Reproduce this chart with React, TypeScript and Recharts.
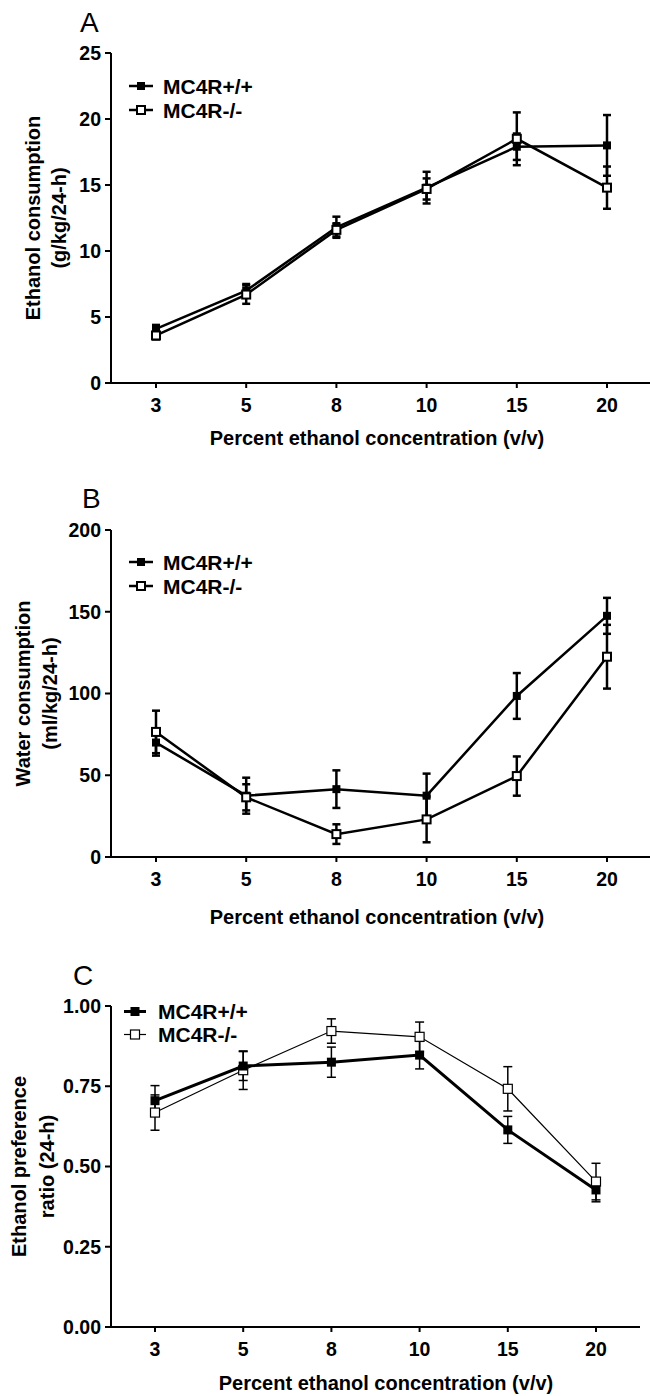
import React from 'react';
import { LineChart, Line, XAxis, YAxis, ErrorBar, Legend, Label } from 'recharts';

// ---------- data ----------
const concentrations = ['3', '5', '8', '10', '15', '20'];
const seriesNames = ['MC4R+/+', 'MC4R-/-'];

// Panel A: ethanol consumption (g/kg/24-h)
const ethanolWT = [4.1, 7.0, 11.8, 14.8, 17.9, 18.0];
const ethanolWTErr = [0.3, 0.5, 0.8, 1.2, 1.0, 2.3];
const ethanolKO = [3.6, 6.7, 11.6, 14.7, 18.5, 14.8];
const ethanolKOErr = [0.3, 0.7, 0.5, 0.8, 2.0, 1.6];
const ethanolTicks = [0, 5, 10, 15, 20, 25];

// Panel B: water consumption (ml/kg/24-h)
const waterWT = [70, 37.5, 41.5, 37.5, 98.5, 147.5];
const waterWTErr = [8, 11, 11.5, 13.5, 14, 11];
const waterKO = [76.5, 36.5, 14, 23, 49.5, 122.5];
const waterKOErr = [13, 8, 6, 14, 12, 19.5];
const waterTicks = [0, 50, 100, 150, 200];

// Panel C: ethanol preference ratio (24-h)
const prefWT = [0.705, 0.813, 0.825, 0.847, 0.614, 0.427];
const prefWTErr = [0.047, 0.045, 0.047, 0.043, 0.042, 0.037];
const prefKO = [0.668, 0.8, 0.922, 0.904, 0.742, 0.453];
const prefKOErr = [0.055, 0.06, 0.038, 0.046, 0.069, 0.057];
const prefTicks = [0, 0.25, 0.5, 0.75, 1.0];

const FONT = '"Liberation Sans", Arial, Helvetica, sans-serif';

function buildRows(wt: number[], wtErr: number[], ko: number[], koErr: number[]) {
  return concentrations.map((c, i) => ({
    conc: c,
    wt: wt[i],
    wtErr: wtErr[i],
    ko: ko[i],
    koErr: koErr[i],
  }));
}

const filledDot = (size: number) => (props: any) => {
  const { cx, cy, index } = props;
  if (cx == null || cy == null) return <g key={`fd${index}`} />;
  return (
    <rect key={`fd${index}`} x={cx - size / 2} y={cy - size / 2} width={size} height={size} fill="#000" />
  );
};

const openDot = (size: number, sw: number) => (props: any) => {
  const { cx, cy, index } = props;
  if (cx == null || cy == null) return <g key={`od${index}`} />;
  return (
    <rect
      key={`od${index}`}
      x={cx - size / 2}
      y={cy - size / 2}
      width={size}
      height={size}
      fill="#fff"
      stroke="#000"
      strokeWidth={sw}
    />
  );
};

type PanelProps = {
  top: number;
  height: number;
  width: number;
  marginTop: number;
  marginRight: number;
  xAxisH: number;
  pad: number;
  data: any[];
  yDomain: [number, number];
  yTicks: number[];
  tickFmt: (v: number) => string;
  yTitle: [string, string];
  yTitleX: [number, number];
  xTitleCx: number;
  xTitleDy: number;
  legendTop: number;
  legendLeft: number;
  legendRowH: number;
  legendLineW: number;
  legendGap: number;
  wtWidth: number;
  koWidth: number;
  errWidth: number;
  capW: number;
  markerSize: number;
  openStroke: number;
  filledOnTop: boolean;
};

const tickStyle = { fontFamily: FONT, fontSize: 19.5, fontWeight: 700, fill: '#000' };

function Panel(p: PanelProps) {
  const wtLine = (
    <Line
      key="wt"
      dataKey="wt"
      name={seriesNames[0]}
      stroke="#000"
      strokeWidth={p.wtWidth}
      dot={filledDot(p.markerSize)}
      activeDot={false}
      isAnimationActive={false}
    >
      <ErrorBar dataKey="wtErr" width={p.capW} strokeWidth={p.errWidth} stroke="#000" direction="y" isAnimationActive={false} />
    </Line>
  );
  const koLine = (
    <Line
      key="ko"
      dataKey="ko"
      name={seriesNames[1]}
      stroke="#000"
      strokeWidth={p.koWidth}
      dot={openDot(p.markerSize, p.openStroke)}
      activeDot={false}
      isAnimationActive={false}
    >
      <ErrorBar dataKey="koErr" width={p.capW} strokeWidth={p.errWidth} stroke="#000" direction="y" isAnimationActive={false} />
    </Line>
  );

  const legendW = 160;
  const legendH = p.legendRowH * 2;
  const legendContent = () => (
    <svg width={legendW} height={legendH} style={{ display: 'block', overflow: 'visible' }}>
      {seriesNames.map((n, i) => {
        const lw = i === 0 ? p.wtWidth : p.koWidth;
        const s = p.markerSize;
        const cx = p.legendLineW / 2;
        const cy = p.legendRowH * i + p.legendRowH / 2;
        return (
          <g key={n}>
            <line x1={0} y1={cy} x2={p.legendLineW} y2={cy} stroke="#000" strokeWidth={lw} />
            {i === 0 ? (
              <rect x={cx - s / 2} y={cy - s / 2} width={s} height={s} fill="#000" />
            ) : (
              <rect x={cx - s / 2} y={cy - s / 2} width={s} height={s} fill="#fff" stroke="#000" strokeWidth={p.openStroke} />
            )}
            <text
              x={p.legendLineW + p.legendGap}
              y={cy}
              dy="0.36em"
              fontFamily={FONT}
              fontSize={21}
              fontWeight={700}
              fill="#000"
            >
              {n}
            </text>
          </g>
        );
      })}
    </svg>
  );

  return (
    <div style={{ position: 'absolute', left: 0, top: p.top }}>
      <LineChart
        width={p.width}
        height={p.height}
        data={p.data}
        margin={{ top: p.marginTop, right: p.marginRight, left: 0, bottom: 0 }}
      >
        <XAxis
          dataKey="conc"
          type="category"
          height={p.xAxisH}
          padding={{ left: p.pad, right: p.pad }}
          axisLine={{ stroke: '#000', strokeWidth: 2 }}
          tickLine={{ stroke: '#000', strokeWidth: 2 }}
          tickSize={5}
          tickMargin={10}
          tick={tickStyle}
          interval={0}
        >
          <Label
            content={(lp: any) => {
              const vb = lp.viewBox || { y: 0 };
              return (
                <text
                  x={p.xTitleCx}
                  y={vb.y + p.xTitleDy}
                  textAnchor="middle"
                  fontFamily={FONT}
                  fontSize={20}
                  fontWeight={700}
                  fill="#000"
                >
                  Percent ethanol concentration (v/v)
                </text>
              );
            }}
          />
        </XAxis>
        <YAxis
          width={111}
          domain={p.yDomain}
          ticks={p.yTicks}
          interval={0}
          allowDataOverflow
          tickFormatter={p.tickFmt}
          axisLine={{ stroke: '#000', strokeWidth: 2 }}
          tickLine={{ stroke: '#000', strokeWidth: 2 }}
          tickSize={6}
          tickMargin={4}
          tick={tickStyle}
        >
          <Label
            content={(lp: any) => {
              const vb = lp.viewBox || { y: 0, height: 0 };
              const cy = vb.y + vb.height / 2;
              return (
                <g>
                  {p.yTitle.map((t, i) => (
                    <text
                      key={t}
                      transform={`translate(${p.yTitleX[i]}, ${cy}) rotate(-90)`}
                      textAnchor="middle"
                      dy="0.36em"
                      fontFamily={FONT}
                      fontSize={20}
                      fontWeight={700}
                      fill="#000"
                    >
                      {t}
                    </text>
                  ))}
                </g>
              );
            }}
          />
        </YAxis>
        <Legend
          layout="vertical"
          align="center"
          verticalAlign="middle"
          content={legendContent}
          wrapperStyle={{ top: p.legendTop, left: p.legendLeft, width: legendW, height: legendH }}
        />
        {p.filledOnTop ? [koLine, wtLine] : [wtLine, koLine]}
      </LineChart>
    </div>
  );
}

const dataA = buildRows(ethanolWT, ethanolWTErr, ethanolKO, ethanolKOErr);
const dataB = buildRows(waterWT, waterWTErr, waterKO, waterKOErr);
const dataC = buildRows(prefWT, prefWTErr, prefKO, prefKOErr);

export default function App() {
  return (
    <div
      style={{
        position: 'absolute',
        left: 0,
        top: 0,
        width: 650,
        height: 1396,
        background: '#fff',
        overflow: 'hidden',
      }}
    >
      <Panel
        top={0}
        height={460}
        width={660}
        marginTop={53}
        marginRight={8}
        xAxisH={77}
        pad={45}
        data={dataA}
        yDomain={[0, 25]}
        yTicks={ethanolTicks}
        tickFmt={(v) => String(v)}
        yTitle={['Ethanol consumption', '(g/kg/24-h)']}
        yTitleX={[33, 59]}
        xTitleCx={377}
        xTitleDy={62}
        legendTop={74}
        legendLeft={129}
        legendRowH={24}
        legendLineW={24}
        legendGap={10}
        wtWidth={2.5}
        koWidth={2.5}
        errWidth={2.5}
        capW={4}
        markerSize={8}
        openStroke={2}
        filledOnTop={false}
      />
      <Panel
        top={450}
        height={490}
        width={660}
        marginTop={80}
        marginRight={8}
        xAxisH={83}
        pad={45}
        data={dataB}
        yDomain={[0, 200]}
        yTicks={waterTicks}
        tickFmt={(v) => String(v)}
        yTitle={['Water consumption', '(ml/kg/24-h)']}
        yTitleX={[23, 50]}
        xTitleCx={377}
        xTitleDy={67}
        legendTop={100}
        legendLeft={129}
        legendRowH={24}
        legendLineW={24}
        legendGap={10}
        wtWidth={2.5}
        koWidth={2.5}
        errWidth={2.5}
        capW={4}
        markerSize={8}
        openStroke={2}
        filledOnTop={false}
      />
      <Panel
        top={940}
        height={456}
        width={660}
        marginTop={66}
        marginRight={20}
        xAxisH={69}
        pad={44}
        data={dataC}
        yDomain={[0, 1]}
        yTicks={prefTicks}
        tickFmt={(v) => v.toFixed(2)}
        yTitle={['Ethanol preference', 'ratio (24-h)']}
        yTitleX={[19, 47]}
        xTitleCx={386}
        xTitleDy={63}
        legendTop={60}
        legendLeft={124}
        legendRowH={23}
        legendLineW={22}
        legendGap={12}
        wtWidth={3}
        koWidth={1.2}
        errWidth={1.5}
        capW={4.5}
        markerSize={9}
        openStroke={1.2}
        filledOnTop={true}
      />
      <svg
        width={650}
        height={1396}
        style={{ position: 'absolute', left: 0, top: 0, pointerEvents: 'none' }}
      >
        <text x={80} y={32} fontFamily={FONT} fontSize={28} fill="#000">A</text>
        <text x={82} y={508} fontFamily={FONT} fontSize={28} fill="#000">B</text>
        <text x={73} y={985} fontFamily={FONT} fontSize={28} fill="#000">C</text>
      </svg>
    </div>
  );
}
